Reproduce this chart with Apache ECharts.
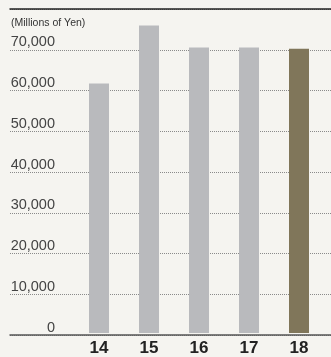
<!DOCTYPE html>
<html>
<head>
<meta charset="utf-8">
<script src="https://cdn.jsdelivr.net/npm/echarts@6/dist/echarts.min.js"></script>
<style>
  html, body { margin: 0; padding: 0; background: #f5f4f0; }
  #chart { width: 331px; height: 357px; }
</style>
</head>
<body>
<div id="chart"></div>
<script>
// fiscal years and values (millions of yen)
const years = ['14', '15', '16', '17', '18'];
const values = [61600, 75900, 70500, 70500, 70200];
const yMax = 80000;
const yStep = 10000;

const chart = echarts.init(document.getElementById('chart'));
const font = '"Liberation Sans", Arial, sans-serif';

const option = {
    backgroundColor: '#f5f4f0',
    animation: false,
    title: {
        text: '(Millions of Yen)',
        left: 11,
        top: 18,
        padding: 0,
        textStyle: { fontFamily: font, fontSize: 10.5, fontWeight: 'normal', color: '#333' }
    },
    grid: [
        // full width grid: gridlines, y labels, top + bottom rules
        { left: 10, right: 0, top: 9, bottom: 22 },
        // bars
        { left: 74, right: 7, top: 9, bottom: 22 }
    ],
    xAxis: [
        {
            gridIndex: 0, type: 'value', position: 'top', min: 0, max: 1,
            axisLine: { show: true, onZero: false, lineStyle: { color: '#222', width: 1.5 } },
            axisTick: { show: false }, axisLabel: { show: false }, splitLine: { show: false }
        },
        {
            gridIndex: 0, type: 'value', position: 'bottom', min: 0, max: 1,
            axisLine: { show: true, onZero: false, lineStyle: { color: '#555', width: 1.5 } },
            axisTick: { show: false }, axisLabel: { show: false }, splitLine: { show: false }
        },
        {
            gridIndex: 1, type: 'category', data: years,
            axisLine: { show: false }, axisTick: { show: false },
            axisLabel: {
                margin: 7,
                fontFamily: font, fontSize: 17, fontWeight: 'bold', color: '#222'
            }
        }
    ],
    yAxis: [
        {
            gridIndex: 0, type: 'value', min: 0, max: yMax, interval: yStep,
            axisLine: { show: false }, axisTick: { show: false },
            axisLabel: {
                inside: true, margin: 45, align: 'right', verticalAlign: 'bottom',
                showMaxLabel: false,
                fontFamily: font, fontSize: 14.5, color: '#444',
                formatter: v => v.toLocaleString('en-US')
            },
            splitLine: { lineStyle: { color: '#8a8a8a', width: 1, type: [1, 1] } }
        },
        {
            gridIndex: 1, type: 'value', min: 0, max: yMax, interval: yStep,
            show: false
        }
    ],
    series: [
        {
            type: 'bar',
            xAxisIndex: 2,
            yAxisIndex: 1,
            barWidth: 20,
            data: values.map((v, i) => ({
                value: v,
                itemStyle: { color: i === values.length - 1 ? '#80765a' : '#b9babd' }
            }))
        }
    ]
};

chart.setOption(option);
</script>
</body>
</html>
